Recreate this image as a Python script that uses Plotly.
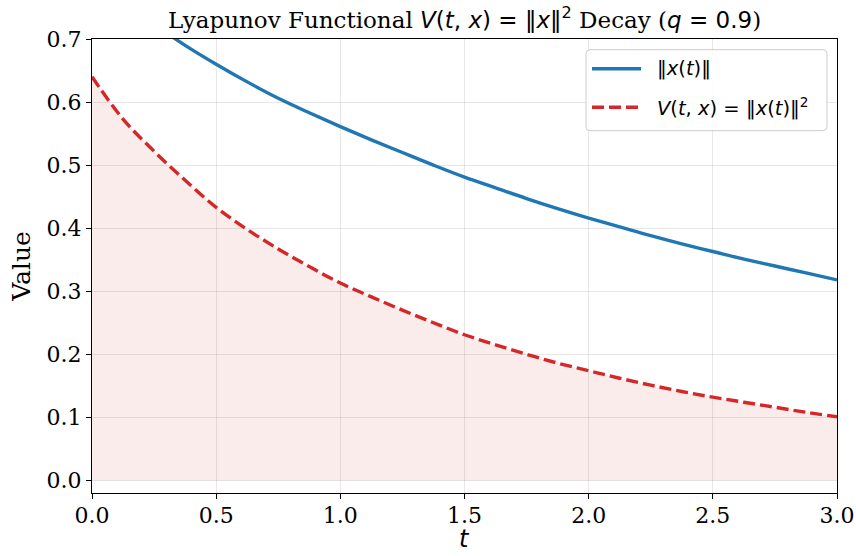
import plotly.graph_objects as go

# Data
t_vals = [0.0, 0.125, 0.25, 0.375, 0.5, 0.625, 0.75, 0.875, 1.0, 1.125, 1.25, 1.375, 1.5,
          1.625, 1.75, 1.875, 2.0, 2.125, 2.25, 2.375, 2.5, 2.625, 2.75, 2.875, 3.0]
norm_x = [0.800, 0.757, 0.723, 0.690, 0.660, 0.632, 0.606, 0.583, 0.561, 0.540, 0.520, 0.500, 0.481,
          0.464, 0.447, 0.431, 0.416, 0.402, 0.388, 0.375, 0.363, 0.351, 0.340, 0.329, 0.318]
lyap_v = [0.640, 0.573, 0.522, 0.476, 0.433, 0.398, 0.367, 0.339, 0.313, 0.291, 0.270, 0.250, 0.231,
          0.215, 0.200, 0.186, 0.174, 0.162, 0.151, 0.141, 0.132, 0.124, 0.116, 0.108, 0.101]

x_ticks = [0.0, 0.5, 1.0, 1.5, 2.0, 2.5, 3.0]
y_ticks = [0.0, 0.1, 0.2, 0.3, 0.4, 0.5, 0.6, 0.7]

name_norm = "‖<i>x</i>(<i>t</i>)‖"
name_v = "<i>V</i>(<i>t</i>, <i>x</i>) = ‖<i>x</i>(<i>t</i>)‖<sup>2</sup>"

BLUE = "#1f77b4"
RED = "#d62728"
W, H = 856, 556
L, R, T, B = 92, 837, 39.3, 493.3

def px(x):
    return (x - L) / (R - L)

def py(y):
    return (B - y) / (B - T)

fig = go.Figure()
fig.add_trace(go.Scatter(x=t_vals, y=lyap_v, mode="lines", fill="tozeroy",
                         fillcolor="rgba(214,39,40,0.09)",
                         line=dict(color=RED, width=3.4, dash="12px,5px", shape="spline", smoothing=1),
                         name=name_v, showlegend=False))
fig.add_trace(go.Scatter(x=t_vals, y=norm_x, mode="lines",
                         line=dict(color=BLUE, width=3.4, shape="spline", smoothing=1),
                         name=name_norm, showlegend=False))

# manual legend
bx0, bx1, by0, by1, r = px(586), px(827), py(50), py(131), 4
rx = r / (R - L)
ry = r / (B - T)
path = (f"M {bx0+rx},{by0} L {bx1-rx},{by0} Q {bx1},{by0} {bx1},{by0-ry} "
        f"L {bx1},{by1+ry} Q {bx1},{by1} {bx1-rx},{by1} L {bx0+rx},{by1} "
        f"Q {bx0},{by1} {bx0},{by1+ry} L {bx0},{by0-ry} Q {bx0},{by0} {bx0+rx},{by0} Z")
shapes = [
    dict(type="path", path=path, xref="paper", yref="paper", layer="above",
         fillcolor="rgba(255,255,255,0.85)", line=dict(color="#cccccc", width=1)),
    dict(type="line", xref="paper", yref="paper", x0=px(592), x1=px(641), y0=py(69), y1=py(69),
         line=dict(color=BLUE, width=3.4), layer="above"),
    dict(type="line", xref="paper", yref="paper", x0=px(592), x1=px(641), y0=py(107.5), y1=py(107.5),
         line=dict(color=RED, width=3.4, dash="12px,5px"), layer="above"),
]
annotations = [
    dict(text=name_norm, xref="paper", yref="paper", x=px(655), y=py(69), xanchor="left",
         yanchor="middle", showarrow=False, font=dict(family="DejaVu Sans", size=19.5, color="black")),
    dict(text=name_v, xref="paper", yref="paper", x=px(655), y=py(107), xanchor="left",
         yanchor="middle", showarrow=False, font=dict(family="DejaVu Sans", size=19.5, color="black")),
    dict(text="<i>t</i>", xref="paper", yref="paper", x=0.5, y=py(555), xanchor="center",
         yanchor="bottom", showarrow=False, font=dict(family="DejaVu Sans", size=24, color="black")),
]

title = ("Lyapunov Functional <span style='font-family:DejaVu Sans'><i>V</i>(<i>t</i>, <i>x</i>) = "
         "‖<i>x</i>‖<sup>2</sup></span> Decay (<span style='font-family:DejaVu Sans'><i>q</i> = 0.9</span>)")

axis_common = dict(showline=True, linecolor="black", linewidth=1.2, mirror=True,
                   ticks="outside", ticklen=5, tickwidth=1.2, tickcolor="black",
                   showgrid=True, gridcolor="rgba(176,176,176,0.3)", gridwidth=1,
                   zeroline=False, tickformat=".1f", automargin=False,
                   tickfont=dict(family="DejaVu Serif", size=22, color="black"))

fig.update_layout(
    width=W, height=H,
    margin=dict(l=L, r=W - R, t=T, b=H - B, autoexpand=False),
    paper_bgcolor="white", plot_bgcolor="white",
    title=dict(text=title, x=(L + R) / 2 / W, xanchor="center", y=1 - 20 / H, yanchor="middle",
               font=dict(family="DejaVu Serif", size=23, color="black")),
    xaxis=dict(range=[0, 3], tickvals=x_ticks, ticklabelstandoff=-3, **axis_common),
    yaxis=dict(range=[-0.02, 0.7], tickvals=y_ticks, **axis_common,
               title=dict(text="Value", standoff=8,
                          font=dict(family="DejaVu Serif", size=25, color="black"))),
    shapes=shapes, annotations=annotations, showlegend=False,
)

fig.write_html("out.html")
